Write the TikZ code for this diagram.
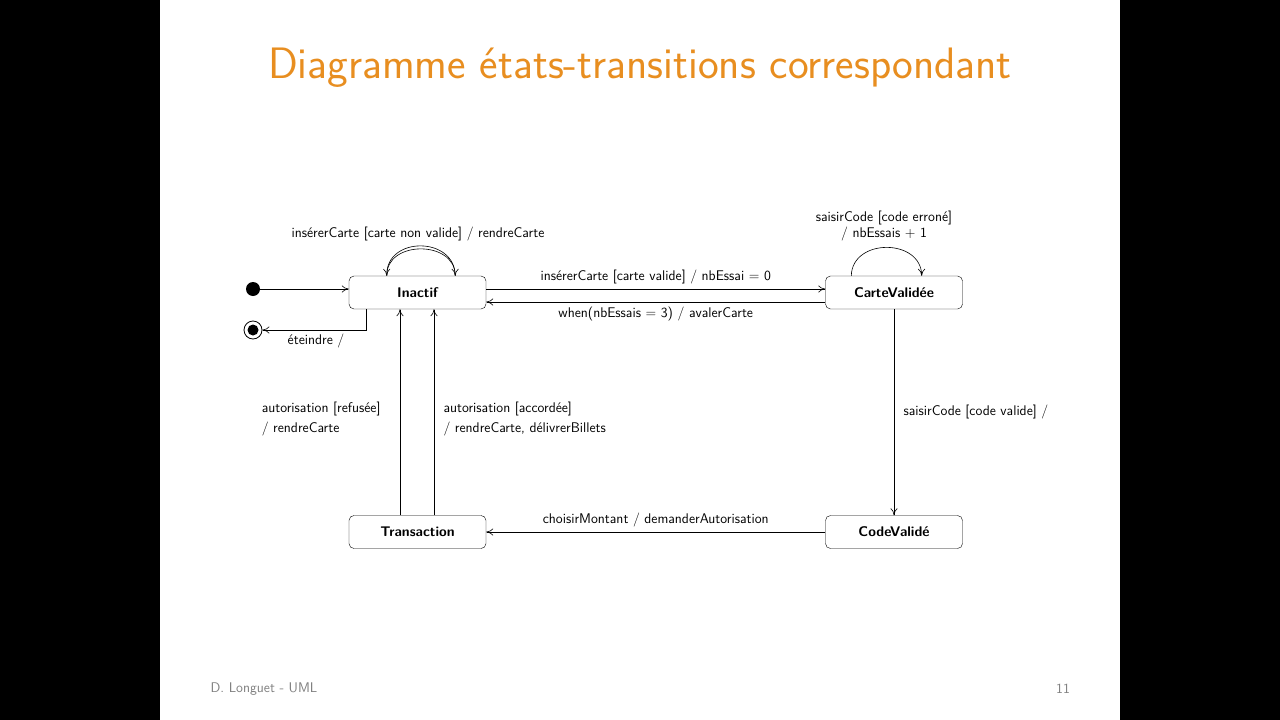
\documentclass[tikz,border=0pt]{standalone}
\usepackage{fontspec}
\usetikzlibrary{arrows.meta}
\definecolor{ttl}{RGB}{232,142,32}
\begin{document}
\begin{tikzpicture}[x=1pt,y=-1pt,
 st/.style={draw,rounded corners=5pt,minimum width=137pt,minimum height=33pt,font=\fontsize{14}{16}\sffamily\bfseries},
 lb/.style={font=\fontsize{14}{16}\sffamily},
 ar/.style={-{To[length=7pt,width=7pt]},line width=0.6pt}]
\fill[black] (0,0) rectangle (1280,720);
\fill[white] (160,0) rectangle (1120,720);
\useasboundingbox (0,0) rectangle (1280,720);
\node[text=ttl,font=\fontsize{44}{50}\sffamily] (t) at (640,68) {Diagramme états-transitions correspondant};
\node[st] (in) at (417.5,292.5) {Inactif};
\node[st] (cv) at (894,292.5) {CarteValidée};
\node[st] (tr) at (417.5,532) {Transaction};
\node[st] (cd) at (894,532) {CodeValidé};
\node[circle,fill,inner sep=0,minimum size=14pt] (i) at (253,289) {};
\node[circle,draw,line width=0.8pt,inner sep=0,minimum size=18pt] (f) at (253,330) {};
\fill (f.center) circle (5.5pt);
\draw[ar] (i) -- (in.west|-i);
\coordinate (e1) at (366,330);
\draw[ar] (in.south-|e1) -- (e1) -- (f);
\node[lb] (el) at (316,341) {éteindre /};
\draw[ar] ([xshift=38pt]in.north west) .. controls (455-69,240) and (455,240) .. ([xshift=-31pt]in.north east) ;
\node[lb] (l1) at (418,234) {insérerCarte [carte non valide] / rendreCarte};
\draw[ar] ([xshift=-31pt]in.north east) .. controls (455,236) and (386,236) .. ([xshift=38pt]in.north west);
\draw[ar] (in.east|-i) -- (cv.west|-i) node[lb,midway,above=1pt] {insérerCarte [carte valide] / nbEssai = 0};
\coordinate (r) at (0,302);
\draw[ar] (cv.west|-r) -- (in.east|-r) node[lb,midway,below=1pt] {when(nbEssais = 3) / avalerCarte};
\draw[ar] ([xshift=26pt]cv.north west) .. controls (852,238) and (921,238) .. ([xshift=-41pt]cv.north east);
\node[lb,align=center] (l2) at (884,226) {saisirCode [code erroné]\\ / nbEssais + 1};
\draw[ar] (cv) -- (cd) node[lb,midway,right=6pt] {saisirCode [code valide] /};
\draw[ar] (cd) -- (tr) node[lb,midway,above=1pt] {choisirMontant / demanderAutorisation};
\coordinate (a) at (400,0); \coordinate (b) at (434,0);
\draw[ar] (tr.north-|a) -- (in.south-|a);
\draw[ar] (tr.north-|b) -- (in.south-|b);
\node[lb,align=left,anchor=east] (l3) at (384,419) {autorisation [refusée]\\[4pt] / rendreCarte};
\node[lb,align=left,anchor=west] (l4) at (440,419) {autorisation [accordée]\\[4pt] / rendreCarte, délivrerBillets};
\node[lb,text=gray,anchor=west] (ft) at (207,689) {D. Longuet - UML};
\node[lb,text=gray] (pg) at (1063,689) {11};
\end{tikzpicture}
\end{document}
